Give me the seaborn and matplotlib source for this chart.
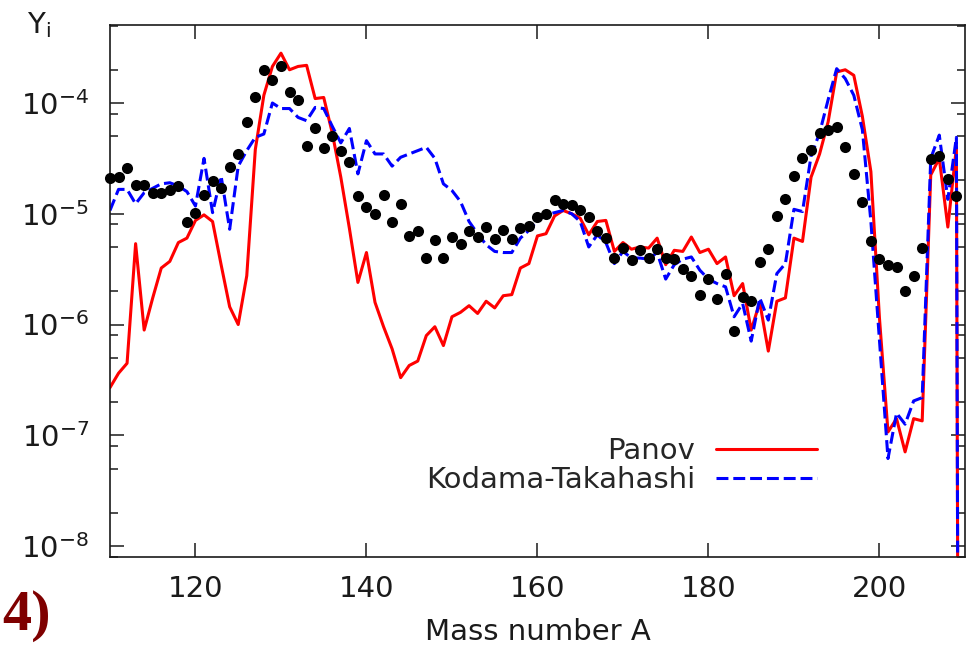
import numpy as np
import pandas as pd
import matplotlib
matplotlib.use('Agg')
import matplotlib.pyplot as plt
from matplotlib.ticker import LogLocator, NullFormatter, MultipleLocator
import seaborn as sns

# mass numbers
mass_obs = list(range(110, 210))
mass_model = list(range(110, 211))

# log10 of the solar r-process abundances (black dots), A = 110..209
obs_log = [-4.68, -4.67, -4.59, -4.74, -4.74, -4.81, -4.81, -4.79, -4.75, -5.07,
           -4.99, -4.83, -4.70, -4.77, -4.58, -4.46, -4.17, -3.95, -3.70, -3.79,
           -3.67, -3.90, -3.97, -4.39, -4.23, -4.41, -4.30, -4.43, -4.53, -4.84,
           -4.94, -5.00, -4.83, -5.07, -4.91, -5.20, -5.16, -5.40, -5.24, -5.40,
           -5.21, -5.27, -5.16, -5.21, -5.12, -5.23, -5.15, -5.23, -5.13, -5.11,
           -5.03, -5.00, -4.88, -4.91, -4.92, -4.97, -5.03, -5.16, -5.22, -5.40,
           -5.31, -5.42, -5.33, -5.40, -5.32, -5.40, -5.41, -5.50, -5.56, -5.73,
           -5.59, -5.77, -5.54, -6.06, -5.75, -5.79, -5.44, -5.32, -5.02, -4.87,
           -4.66, -4.50, -4.42, -4.27, -4.24, -4.22, -4.40, -4.64, -4.89, -5.25,
           -5.41, -5.46, -5.48, -5.70, -5.56, -5.31, -4.51, -4.48, -4.69, -4.84]

# log10 of Panov yields, A = 110..210
panov_log = [-6.57, -6.44, -6.35, -5.27, -6.05, -5.76, -5.49, -5.43, -5.26, -5.22,
             -5.06, -5.01, -5.07, -5.46, -5.84, -6.00, -5.56, -4.42, -3.93, -3.67,
             -3.55, -3.70, -3.67, -3.66, -3.96, -3.95, -4.27, -4.67, -5.13, -5.62,
             -5.35, -5.80, -6.02, -6.22, -6.48, -6.37, -6.33, -6.10, -6.02, -6.19,
             -5.93, -5.89, -5.83, -5.90, -5.79, -5.85, -5.74, -5.73, -5.49, -5.45,
             -5.20, -5.18, -5.02, -4.97, -5.00, -5.04, -5.19, -5.07, -5.06, -5.34,
             -5.26, -5.32, -5.30, -5.31, -5.22, -5.46, -5.33, -5.34, -5.21, -5.35,
             -5.32, -5.45, -5.39, -5.74, -5.63, -6.05, -5.80, -6.24, -5.79, -5.76,
             -5.22, -5.25, -4.67, -4.46, -4.17, -3.72, -3.70, -3.75, -4.12, -4.62,
             -5.94, -6.97, -6.85, -7.15, -6.85, -6.87, -4.65, -4.50, -5.12, -4.40,
             -30.0]

# log10 of Kodama-Takahashi yields, A = 110..210
kt_log = [-4.97, -4.78, -4.78, -4.91, -4.81, -4.77, -4.73, -4.72, -4.75, -4.80,
          -4.93, -4.50, -4.99, -4.66, -5.14, -4.57, -4.43, -4.31, -4.28, -4.00,
          -4.05, -4.05, -4.13, -4.16, -4.04, -4.05, -4.21, -4.36, -4.23, -4.64,
          -4.34, -4.46, -4.46, -4.57, -4.49, -4.46, -4.43, -4.40, -4.50, -4.73,
          -4.79, -4.89, -5.07, -5.18, -5.28, -5.34, -5.35, -5.35, -5.22, -5.15,
          -5.06, -5.01, -4.99, -4.97, -5.00, -5.07, -5.30, -5.19, -5.26, -5.45,
          -5.34, -5.40, -5.40, -5.41, -5.35, -5.59, -5.46, -5.41, -5.39, -5.51,
          -5.59, -5.63, -5.66, -5.93, -5.81, -6.15, -5.76, -5.96, -5.54, -5.45,
          -4.96, -4.98, -4.48, -4.27, -3.97, -3.69, -3.78, -3.93, -4.24, -5.07,
          -6.14, -7.21, -6.80, -6.90, -6.69, -6.66, -4.50, -4.29, -4.87, -4.31,
          -30.0]

df_obs = pd.DataFrame({'A': mass_obs, 'Y': 10.0 ** np.array(obs_log)})
df_model = pd.DataFrame({'A': mass_model,
                         'Panov': 10.0 ** np.array(panov_log),
                         'KT': 10.0 ** np.array(kt_log)})

sns.set_style('ticks')
plt.rcParams['font.family'] = ['DejaVu Sans']
plt.rcParams['font.size'] = 21
plt.rcParams['mathtext.fontset'] = 'dejavusans'

fig = plt.figure(figsize=(9.74, 6.53), dpi=100)
ax = fig.add_axes([0.1129, 0.1470, 0.8778, 0.8147])
ax.set_yscale('log')

sns.lineplot(data=df_model, x='A', y='Panov', color='#ff0000', lw=2.2,
             errorbar=None, ax=ax, label='Panov')
sns.lineplot(data=df_model, x='A', y='KT', color='#0000ff', lw=2.2,
             errorbar=None, ax=ax, label='Kodama-Takahashi')
ax.lines[-1].set_dashes((3.9, 1.6))
sns.scatterplot(data=df_obs, x='A', y='Y', color='black', s=64, linewidth=0,
                clip_on=False, zorder=5, ax=ax)

ax.set_xlim(110, 210)
ax.set_ylim(7.96e-9, 5.06e-4)

ax.xaxis.set_major_locator(MultipleLocator(20))
ax.yaxis.set_major_locator(LogLocator(base=10))
ax.yaxis.set_minor_locator(LogLocator(base=10, subs=(2, 5, 8)))
ax.yaxis.set_minor_formatter(NullFormatter())
ax.tick_params(axis='both', which='both', direction='in', top=True, right=True,
               colors='#1a1a1a', width=1.1)
ax.tick_params(axis='both', which='major', length=10, labelsize=21)
ax.tick_params(axis='both', which='minor', length=6)
ax.tick_params(axis='x', which='major', pad=13)
ax.tick_params(axis='y', which='major', pad=15)
for sp in ax.spines.values():
    sp.set_linewidth(1.2)
    sp.set_color('#1a1a1a')

ax.set_xlabel('Mass number A', fontsize=21, labelpad=11, color='#1a1a1a')
ax.set_ylabel(r'Y$_{\mathregular{i}}$', fontsize=21, rotation=0,
              ha='left', va='baseline', color='#1a1a1a')
ax.yaxis.set_label_coords(-0.097, 0.985)

ax.legend(loc='upper right', bbox_to_anchor=(0.827, 0.226), frameon=False,
          markerfirst=False, handlelength=3.45, handletextpad=0.72,
          labelspacing=0.05, borderpad=0, borderaxespad=0, fontsize=21)

fig.text(0.002, 0.035, '4)', fontsize=42, fontweight='bold',
         family='Liberation Serif', color='#7f0000', ha='left', va='baseline')

fig.savefig('out.png', dpi=100)
